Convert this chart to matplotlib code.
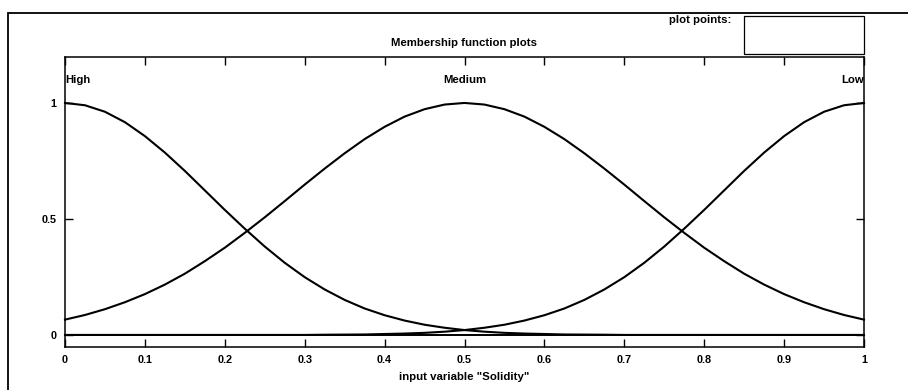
# -*- coding:utf-8 -*-
"""
Membership function plots (input variable "Solidity")
"""
import matplotlib
matplotlib.use('Agg')
import matplotlib.pyplot as plt
from matplotlib.patches import Rectangle

# values, x step 0.025
x_vals = [i * 0.025 for i in range(41)]

high = [1.0, 0.990, 0.962, 0.917, 0.857, 0.786, 0.707, 0.623, 0.539, 0.458,
        0.381, 0.311, 0.249, 0.196, 0.151, 0.114, 0.085, 0.062, 0.044, 0.031,
        0.021, 0.014, 0.009, 0.006, 0.004, 0.002, 0.0015, 0.001, 0.0, 0.0,
        0.0, 0.0, 0.0, 0.0, 0.0, 0.0, 0.0, 0.0, 0.0, 0.0, 0.0]

medium = [0.066, 0.086, 0.111, 0.141, 0.176, 0.217, 0.264, 0.318, 0.376, 0.440,
          0.507, 0.577, 0.648, 0.717, 0.783, 0.844, 0.897, 0.941, 0.973, 0.993,
          1.0, 0.993, 0.973, 0.941, 0.897, 0.844, 0.783, 0.717, 0.648, 0.577,
          0.507, 0.440, 0.376, 0.318, 0.264, 0.217, 0.176, 0.141, 0.111, 0.086,
          0.066]

low = high[::-1]

mf_names = ['High', 'Medium', 'Low']
mf_peaks = [0.0, 0.5, 1.0]

x_ticks = [0, 0.1, 0.2, 0.3, 0.4, 0.5, 0.6, 0.7, 0.8, 0.9, 1]
x_tick_labels = ['0', '0.1', '0.2', '0.3', '0.4', '0.5', '0.6', '0.7', '0.8', '0.9', '1']
y_ticks = [0, 0.5, 1]
y_tick_labels = ['0', '0.5', '1']

plt.rcParams['font.family'] = ['Liberation Sans', 'DejaVu Sans']
FS = 8.2

W, H = 908, 390
fig = plt.figure(figsize=(W / 100, H / 100), dpi=100)

# outer panel frame and "plot points" box
fig.patches.append(Rectangle((8 / W, -0.1), 1.2, 1.1 - 13 / H,
                             transform=fig.transFigure, fill=False,
                             edgecolor='black', lw=1.3))
fig.patches.append(Rectangle((744 / W, 1 - 54 / H), 120 / W, 38 / H,
                             transform=fig.transFigure, fill=False,
                             edgecolor='black', lw=0.9))
fig.text(731 / W, 1 - 20 / H, 'plot points:', ha='right', va='center',
         fontsize=FS, fontweight='bold')

ax = fig.add_axes([65 / W, 1 - 347 / H, (864 - 65) / W, (347 - 57) / H])

for series in (high, medium, low):
    ax.plot(x_vals, series, color='black', lw=1.5, clip_on=False)
ax.axhline(0, color='black', lw=1.4)

for name, peak in zip(mf_names, mf_peaks):
    ha = 'left' if peak == 0 else ('right' if peak == 1 else 'center')
    ax.text(peak, 1.1, name, ha=ha, va='center', fontsize=FS, fontweight='bold')

ax.set_xlim(0, 1)
ax.set_ylim(-0.052, 1.198)
ax.set_xticks(x_ticks)
ax.set_xticklabels(x_tick_labels)
ax.set_yticks(y_ticks)
ax.set_yticklabels(y_tick_labels)
ax.tick_params(direction='in', top=True, right=True, length=6, width=1.0,
               labelsize=FS - 0.4, pad=6)
for lbl in ax.get_xticklabels() + ax.get_yticklabels():
    lbl.set_fontweight('bold')
for spine in ax.spines.values():
    spine.set_linewidth(1.1)

ax.set_xlabel('input variable "Solidity"', fontsize=FS, fontweight='bold',
              labelpad=5)
fig.text((65 + 864) / 2 / W, 1 - 43 / H, 'Membership function plots',
         ha='center', va='center', fontsize=FS, fontweight='bold')

fig.savefig('out.png', dpi=100)
